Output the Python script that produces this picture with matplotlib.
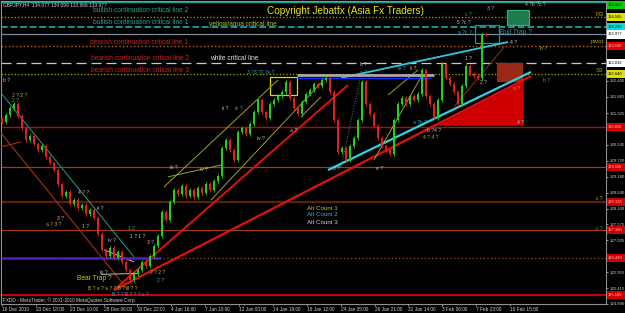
import matplotlib
matplotlib.use('Agg')
import matplotlib.pyplot as plt
import numpy as np
from matplotlib.patches import Rectangle, Polygon
from matplotlib.transforms import blended_transform_factory

# ---------------- data ----------------
symbol_header = "GBPJPY,H4  134.077 134.099 133.866 133.977"

closes = [131.02, 131.26, 131.49, 131.63, 131.22, 130.82, 130.41, 130.55, 130.28, 130.08,
          130.21, 129.84, 129.64, 129.40, 128.93, 128.52, 128.66, 128.25, 128.39, 128.12,
          128.22, 127.92, 128.05, 127.78, 127.24, 126.70, 126.50, 126.77, 126.43, 126.63,
          126.30, 126.03, 125.69, 125.89, 126.03, 126.30, 126.16, 126.50, 126.84, 127.17,
          127.98, 127.71, 128.32, 128.73, 128.59, 128.86, 128.52, 128.73, 128.49, 128.79,
          128.63, 128.93, 128.73, 129.03, 129.20, 130.14, 130.41, 130.08, 129.74, 130.68,
          130.82, 130.62, 130.95, 131.36, 131.76, 131.36, 131.16, 131.63, 131.76, 131.90,
          132.03, 132.37, 131.83, 131.49, 131.29, 131.70, 131.97, 132.10, 132.30, 132.24,
          132.44, 132.51, 132.03, 131.09, 130.01, 130.14, 129.74, 130.21, 130.48, 131.09,
          132.37, 131.63, 131.29, 130.89, 130.48, 130.21, 130.08, 129.94, 131.09, 131.63,
          131.83, 131.63, 131.90, 131.76, 131.97, 132.78, 131.90, 131.63, 131.16, 131.76,
          132.98, 132.51, 132.30, 132.03, 131.63, 132.24, 132.91, 132.64, 132.57, 132.51,
          133.99, 133.98]
first_open = 131.10

date_labels = ["16 Dec 2010", "20 Dec 18:00", "23 Dec 10:00", "28 Dec 06:00", "30 Dec 22:00",
               "4 Jan 16:00", "7 Jan 10:00", "12 Jan 03:00", "14 Jan 19:00", "19 Jan 12:00",
               "24 Jan 05:00", "26 Jan 21:00", "31 Jan 14:00", "3 Feb 06:00", "7 Feb 23:00",
               "10 Feb 15:00"]

price_ticks = [132.405, 131.865, 131.325, 130.245, 129.720, 129.180, 128.640, 128.100,
               127.575, 127.035, 126.495, 125.955, 125.415, 124.890]

# horizontal levels
h_levels = [135.07, 134.565, 134.23, 133.977, 133.59, 133.01, 132.64,
            130.85, 129.50, 128.32, 127.38, 126.43, 125.18]
h_colors = ['#1a9a8a', '#a8a800', '#1aa0a0', '#7a8a9a', '#c06000', '#c8c8c8', '#a8a800',
            '#c80000', '#a03a10', '#5a2008', '#a03a10', '#a03a10', '#d00000']
h_styles = ['-', ':', '--', '-', ':', (0, (8, 4)), ':', '-', '-', '-', '-', ':', '-']
h_widths = [1.0, 0.9, 1.3, 0.9, 1.0, 0.9, 0.9, 1.0, 0.9, 1.6, 0.9, 1.0, 1.4]

# right-side price tags
tag_prices = [134.967, 134.565, 134.230, 133.977, 133.590, 133.010, 132.640,
              130.850, 129.500, 128.320, 127.380, 126.430, 125.180]
tag_colors = ['#00d000', '#e0e000', '#00e0e0', '#ffffff', '#e00000', '#ffffff', '#e0e000',
              '#d00000', '#d00000', '#d00000', '#d00000', '#d00000', '#d00000']

# trend lines: (x0, p0, x1, p1, color, width, style)
trend_lines = [
    (28.0, 125.35, 132.25, 132.57, '#e01010', 1.6, '-'),
    (81.5, 129.40, 132.25, 132.71, '#30d0e0', 1.6, '-'),
    (28.0, 125.35, 86.5, 132.27, '#e01010', 1.4, '-'),
    (84.75, 132.51, 126.5, 133.72, '#30c8e0', 1.3, '-'),
    (-0.25, 132.00, 33.0, 126.47, '#20a090', 0.7, '-'),
    (-0.25, 130.65, 31.5, 125.35, '#a83010', 0.8, '-'),
    (-0.25, 130.18, 4.75, 130.35, '#a83010', 0.8, '-'),
    (40.5, 128.83, 69.0, 132.44, '#a0a020', 0.7, '-'),
    (52.25, 128.39, 79.75, 132.34, '#a0a020', 0.7, '-'),
    (41.5, 129.17, 54.75, 129.57, '#a0a020', 0.7, '-'),
    (96.5, 131.93, 104.0, 132.78, '#a0a020', 0.7, '-'),
    (93.0, 129.74, 104.75, 132.54, '#a0a020', 0.7, '-'),
    (113.0, 131.53, 125.5, 133.55, '#903010', 0.7, '-'),
    (84.75, 129.50, 89.75, 132.61, '#20a090', 0.7, ':'),
    (74.75, 131.19, 79.75, 131.87, '#a0a020', 0.7, '-'),
    (25.5, 126.71, 33.0, 126.30, '#c0c0c0', 0.7, '-'),
    (24.75, 125.88, 34.0, 125.91, '#c0c0c0', 0.7, '-'),
    (-0.25, 126.43, 39.75, 126.43, '#5020c0', 1.8, '-'),
    (73.75, 132.61, 108.0, 132.61, '#a8a8a8', 2.0, '-'),
    (73.75, 132.51, 107.25, 132.51, '#1030ff', 1.0, '-'),
]

# rectangles: (x0, x1, p0, p1, face, edge)
boxes = [
    (126.25, 131.75, 134.295, 134.80, '#207a50', '#30b070'),
    (123.75, 130.0, 132.405, 133.01, '#982818', '#982818'),
    (67.0, 73.75, 131.93, 132.54, 'none', '#d8d800'),
    (118.25, 124.25, 133.69, 134.295, 'none', '#2090a0'),
]
triangle = [(109.5, 130.92), (130.25, 132.37), (130.25, 130.92)]

# ---------------- figure ----------------
W, H = 625, 313
F = 'Liberation Sans'
fig = plt.figure(figsize=(6.25, 3.13), dpi=100, facecolor='black')
ax_left, ax_right, ax_top, ax_bot = 1, 606, 1, 304
ax = fig.add_axes([ax_left / W, 1 - ax_bot / H, (ax_right - ax_left) / W, (ax_bot - ax_top) / H])
ax.set_facecolor('black')

ppx = 0.03375   # price per pixel
ytop = 132.405 + (81 - ax_top) * ppx
ybot = 132.405 - (ax_bot - 81) * ppx
ax.set_ylim(ybot, ytop)
ax.set_xlim(-0.25, -0.25 + (ax_right - ax_left) / 4.0)

for sp in ax.spines.values():
    sp.set_color('#909090')
    sp.set_linewidth(0.8)

# horizontal levels
for p, c, s, w in zip(h_levels, h_colors, h_styles, h_widths):
    ax.axhline(p, color=c, linestyle=s, linewidth=w, zorder=1)

# trend lines
for x0, p0, x1, p1, c, w, s in trend_lines:
    ax.plot([x0, x1], [p0, p1], color=c, linewidth=w, linestyle=s, zorder=3,
            solid_capstyle='butt')

# boxes
for x0, x1, p0, p1, fc, ec in boxes:
    ax.add_patch(Rectangle((x0, p0), x1 - x0, p1 - p0, facecolor=fc, edgecolor=ec,
                           linewidth=0.9, zorder=2))
ax.add_patch(Polygon(triangle, closed=True, facecolor='#d00000', edgecolor='#d00000', zorder=2))

# candles
closes_a = np.array(closes)
opens_a = np.concatenate([[first_open], closes_a[:-1]])
xs = np.arange(len(closes_a))
wick = 0.07
highs = np.maximum(opens_a, closes_a) + wick
lows = np.minimum(opens_a, closes_a) - wick
up = closes_a >= opens_a
cols = np.where(up, '#20d020', '#e02020')
ax.vlines(xs, lows, highs, colors=cols, linewidth=0.6, zorder=4)
ax.bar(xs, np.abs(closes_a - opens_a) + 0.02, bottom=np.minimum(opens_a, closes_a) - 0.01,
       width=0.55, color=cols, zorder=5, linewidth=0)

# axis ticks
ax.yaxis.tick_right()
ax.set_yticks(price_ticks)
ax.set_yticklabels([f"{v:.3f}" for v in price_ticks], family=F)
ax.tick_params(axis='y', colors='#d0d0d0', labelsize=3.1, length=1.5, width=0.5, pad=0.8)
step = 33.87 / 4.0
ax.set_xticks([0.0 + i * step for i in range(len(date_labels))])
ax.set_xticklabels(date_labels, ha='left', family=F)
ax.tick_params(axis='x', colors='#d0d0d0', labelsize=3.4, length=1.5, width=0.5, pad=1)

# price tags on right
bt = blended_transform_factory(fig.transFigure, ax.transData)
for p, c in zip(tag_prices, tag_colors):
    ax.add_patch(Rectangle((607 / W, p - 0.14), 18 / W, 0.28, transform=bt, facecolor=c,
                           edgecolor='none', clip_on=False, zorder=6))
    tc = '#000000' if c not in ('#d00000', '#e00000') else '#ffc0c0'
    fig.text(607.5 / W, p, f"{p:.3f}", transform=bt, fontsize=2.9, color=tc, va='center',
             ha='left', zorder=7, family=F)

# ---------------- text ----------------
def T(x, y, s, c, size=3.8, **kw):
    fig.text(x / W, 1 - y / H, s, color=c, fontsize=size, family=F, va='center', ha='left', **kw)

T(3, 4.5, symbol_header, '#d0d0d0', 3.5)
T(93, 10, "bullish continuation critical line 2", '#20a888', 4.8)
T(93, 23, "bullish continuation critical line 1", '#20a888', 4.8)
T(209, 24, "yellow/aqua critical line", '#b8c020', 4.8)
T(90, 43, "bearish continuation critical line 1", '#d02020', 4.8)
T(91, 59, "bearish continuation critical line 2", '#d02020', 4.8)
T(210, 59, "white critical line", '#e0e0e0', 4.8)
T(91, 71, "bearish continuation critical line 3", '#d02020', 4.8)
T(267, 11, "Copyright Jebatfx (Asia Fx Traders)", '#e8e800', 7.2)
T(596, 14, "R3", '#a8a800', 4.5)
T(591, 42, "pivot", '#a8a800', 4.5)
T(596, 71, "S3", '#a8a800', 4.5)
T(500, 33, "Bull Trap ?", '#2098b0', 4.8)
T(77, 279, "Bear Trap ?", '#c8c820', 4.8)
T(307, 208, "Alt Count 1", '#c8c820', 4.5)
T(307, 215, "Alt Count 2", '#20c0d0', 4.5)
T(307, 222, "Alt Count 3", '#d0d0d0', 4.5)
T(3, 300, "FXDD - MetaTrader, \u00a9 2001-2010 MetaQuotes Software Corp.", '#d0d0d0', 3.4)

Y, Tl, Wc = '#b8b820', '#20b0b0', '#c0c0c0'
wave_labels = [
    (3, 80, "b ?", Wc), (12, 95, "2 ? 2 ?", Y), (12, 101, "2 ?", Tl),
    (78, 192, "4 ? ?", Wc), (57, 218, "3 ?", Wc), (46, 224, "a ? 3 ?", Y),
    (82, 227, "1 ?", Wc), (97, 208, "ii ?", Wc), (108, 240, "iv ?", Wc),
    (100, 272, "iii ?", Wc), (128, 229, "1 2", Tl), (130, 236, "1 ? 1 ?", Wc),
    (147, 243, "3 ?", Wc), (150, 273, "2 ? 2 ?", Y), (157, 280, "2 ?", Tl),
    (88, 288, "B ? a ? a ? ? B ? 8 ? ?", Y), (112, 295, "B ? ? B ? ? ? c ?", Tl),
    (170, 167, "iii ?", Wc), (200, 170, "iv ?", Wc),
    (222, 108, "ii ?", Wc), (235, 108, "iii ?", Tl), (257, 139, "iv ?", Wc),
    (247, 73, "3 ?3 ?2 ?v ?", Tl), (290, 130, "a ?", Wc), (333, 168, "b ?", Wc),
    (376, 168, "e ?", Wc), (360, 65, "b ?", Wc), (360, 72, "a ?", Tl),
    (398, 69, "iii ?", Tl), (410, 69, "ii ?", Wc), (465, 59, "1 ?", Wc),
    (480, 83, "2 ?", Wc), (457, 23, "5 ?c ?", Wc), (465, 15, "c ?", Tl),
    (487, 8, "3 ?", Wc), (525, 4, "4 ?b ?c ?", Wc), (458, 33, "a ?c ?", Tl),
    (510, 42, "4 ?", Wc), (540, 48, "b ?", Y), (543, 80, "b ?", Tl),
    (513, 88, "a ?", '#ff7030'), (517, 122, "4 ?", Wc),
    (413, 122, "a ?b ?", Tl), (427, 130, "b ?4 ?", Wc), (423, 138, "4 ? 4 ?", Y),
    (596, 198, "c ?", Y), (596, 228, "c ?", Tl),
]
for x, y, s, c in wave_labels:
    T(x, y, s, c, 3.6)

fig.savefig('out.png', dpi=100, facecolor='black')
